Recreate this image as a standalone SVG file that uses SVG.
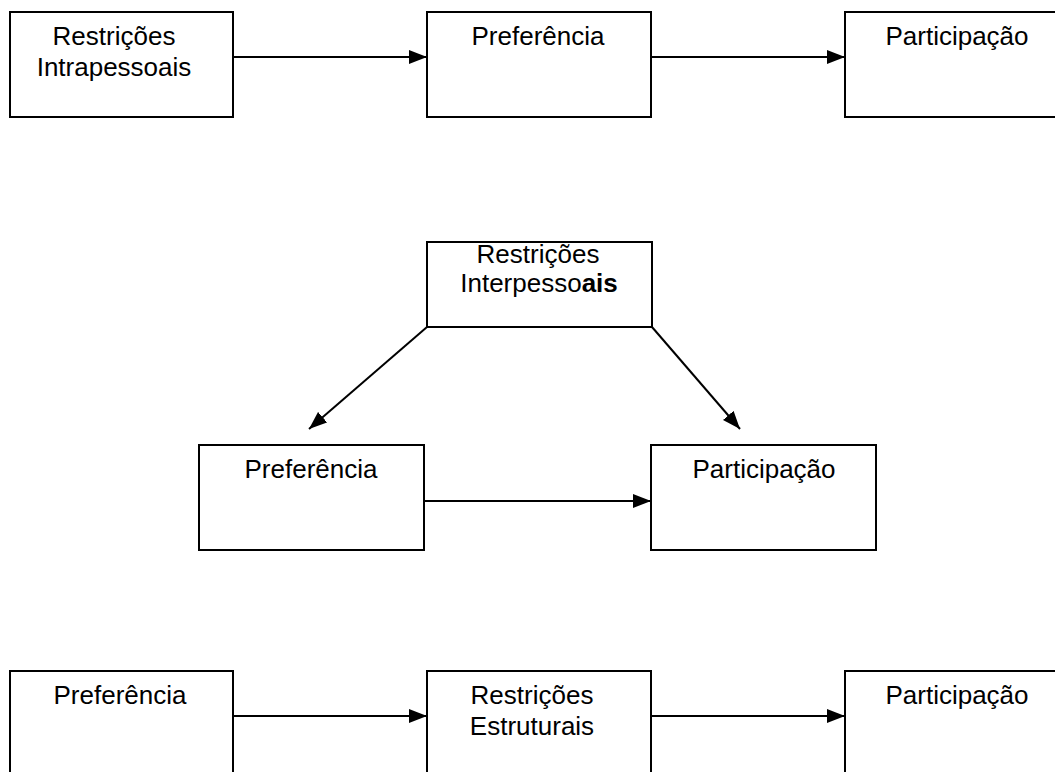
<svg xmlns="http://www.w3.org/2000/svg" width="1055" height="772" viewBox="0 0 1055 772">
<style>
.box{fill:#fff;stroke:#000;stroke-width:2}
.t{font-family:"Liberation Sans",Arial,sans-serif;font-size:26px;fill:#000;text-anchor:middle}
.c{stroke:#000;stroke-width:2;fill:none;marker-end:url(#ah)}
</style>
<defs>
<marker id="ah" markerUnits="userSpaceOnUse" markerWidth="18" markerHeight="14" refX="18" refY="7" orient="auto">
<path d="M0,0 L18,7 L0,14 z" fill="#000"/>
</marker>
</defs>
<rect width="1055" height="772" fill="#fff"/>
<g id="connectors">
<line class="c" x1="233" y1="57" x2="427" y2="57"/>
<line class="c" x1="651" y1="57" x2="845" y2="57"/>
<line class="c" x1="427" y1="327" x2="309" y2="429"/>
<line class="c" x1="652" y1="327" x2="740" y2="429"/>
<line class="c" x1="424" y1="501" x2="651" y2="501"/>
<line class="c" x1="233" y1="716" x2="427" y2="716"/>
<line class="c" x1="651" y1="716" x2="845" y2="716"/>
</g>
<g id="r1-intra"><rect class="box" x="10" y="12" width="223" height="105"/><text class="t" x="114" y="45">Restrições</text><text class="t" x="114" y="76">Intrapessoais</text></g>
<g id="r1-pref"><rect class="box" x="427" y="12" width="224" height="105"/><text class="t" x="538" y="45">Preferência</text></g>
<g id="r1-part"><rect class="box" x="845" y="12" width="225" height="105"/><text class="t" x="957" y="45">Participação</text></g>
<g id="r2-inter"><rect class="box" x="427" y="242" width="225" height="85"/><text class="t" x="538" y="263">Restrições</text><text class="t" x="539" y="292">Interpesso<tspan font-weight="bold">ais</tspan></text></g>
<g id="r2-pref"><rect class="box" x="199" y="445" width="225" height="105"/><text class="t" x="311" y="478">Preferência</text></g>
<g id="r2-part"><rect class="box" x="651" y="445" width="225" height="105"/><text class="t" x="764" y="478">Participação</text></g>
<g id="r3-pref"><rect class="box" x="10" y="671" width="223" height="120"/><text class="t" x="120" y="704">Preferência</text></g>
<g id="r3-estr"><rect class="box" x="427" y="671" width="224" height="120"/><text class="t" x="532" y="704">Restrições</text><text class="t" x="532" y="735">Estruturais</text></g>
<g id="r3-part"><rect class="box" x="845" y="671" width="225" height="120"/><text class="t" x="957" y="704">Participação</text></g>
</svg>
